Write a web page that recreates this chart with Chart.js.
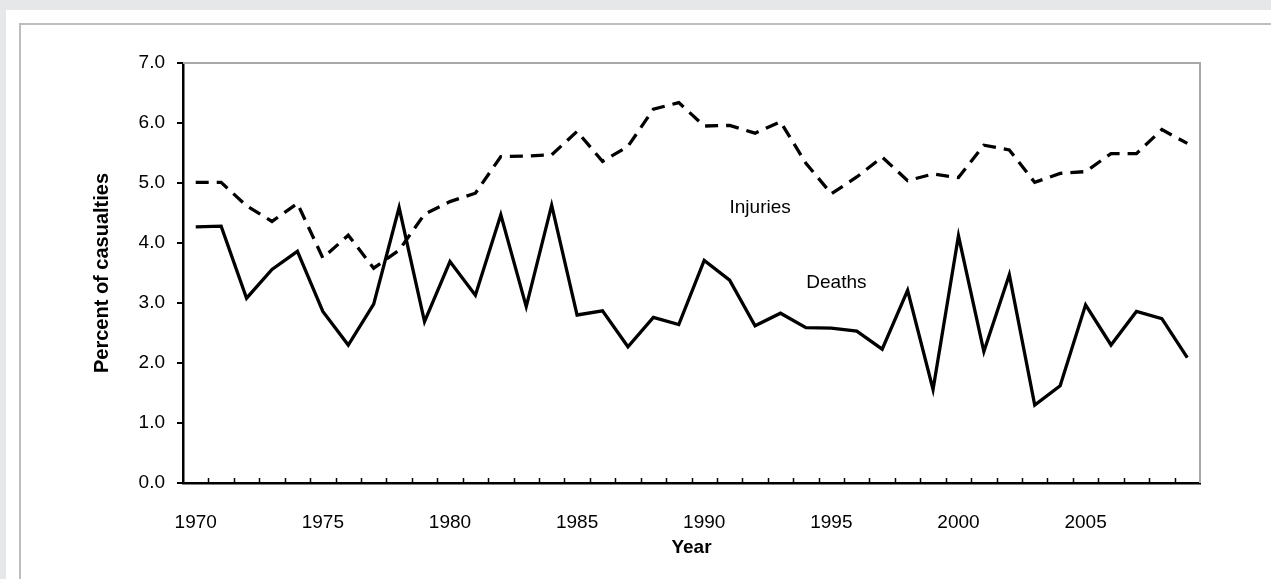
<!DOCTYPE html>
<html>
<head>
<meta charset="utf-8">
<script src="https://cdn.jsdelivr.net/npm/chart.js@4.4.1/dist/chart.umd.min.js"></script>
<style>
  html, body { margin: 0; padding: 0; background: #e6e7e9; overflow: hidden; }
  .card { position: absolute; left: 6px; top: 10px; width: 1300px; height: 600px; background: #fff; }
  .frame { position: absolute; left: 19px; top: 23px; width: 1300px; height: 600px; border: 2px solid #bdbdbd; box-sizing: border-box; }
  canvas { position: absolute; left: 0; top: 0; }
</style>
</head>
<body>
<div class="card"></div>
<div class="frame"></div>
<canvas id="chart" width="1271" height="579"></canvas>
<script>
const years = [
  1970, 1971, 1972, 1973, 1974, 1975, 1976, 1977, 1978, 1979,
  1980, 1981, 1982, 1983, 1984, 1985, 1986, 1987, 1988, 1989,
  1990, 1991, 1992, 1993, 1994, 1995, 1996, 1997, 1998, 1999,
  2000, 2001, 2002, 2003, 2004, 2005, 2006, 2007, 2008, 2009
];
const deaths = [
  4.27, 4.28, 3.08, 3.56, 3.86, 2.86, 2.30, 2.98, 4.59, 2.69,
  3.69, 3.13, 4.47, 2.94, 4.63, 2.80, 2.87, 2.27, 2.76, 2.64,
  3.71, 3.38, 2.62, 2.83, 2.59, 2.58, 2.53, 2.23, 3.21, 1.56,
  4.12, 2.19, 3.47, 1.30, 1.62, 2.97, 2.30, 2.86, 2.74, 2.09
];
const injuries = [
  5.01, 5.01, 4.62, 4.36, 4.66, 3.75, 4.13, 3.58, 3.88, 4.48,
  4.69, 4.83, 5.44, 5.45, 5.47, 5.86, 5.36, 5.61, 6.23, 6.34,
  5.95, 5.96, 5.83, 6.02, 5.33, 4.82, 5.10, 5.43, 5.04, 5.15,
  5.09, 5.63, 5.55, 5.01, 5.16, 5.19, 5.49, 5.49, 5.89, 5.66
];
// in-chart series labels (x as category index, y as percent)
const noteText = ['Injuries', 'Deaths'];
const noteX = [22.2, 25.2];
const noteY = [4.58, 3.33];

const FONT = "'Liberation Sans', Arial, Helvetica, sans-serif";

// gray top/right frame, inward x ticks and series labels
const decorations = {
  id: 'decorations',
  beforeDatasetsDraw(chart) {
    const { ctx, chartArea: a } = chart;
    ctx.save();
    ctx.strokeStyle = '#a8a8a8';
    ctx.lineWidth = 2;
    ctx.beginPath();
    ctx.moveTo(a.left, a.top);
    ctx.lineTo(a.right, a.top);
    ctx.lineTo(a.right, a.bottom);
    ctx.stroke();

    const x = chart.scales.x;
    ctx.strokeStyle = '#000';
    ctx.lineWidth = 1.5;
    ctx.beginPath();
    for (let i = 1; i < years.length; i++) {
      const px = Math.round((x.getPixelForValue(i - 1) + x.getPixelForValue(i)) / 2) + 0.5;
      ctx.moveTo(px, a.bottom);
      ctx.lineTo(px, a.bottom - 5);
    }
    ctx.stroke();
    ctx.restore();
  },
  afterDatasetsDraw(chart) {
    const { ctx } = chart;
    const x = chart.scales.x, y = chart.scales.y;
    ctx.save();
    ctx.fillStyle = '#000';
    ctx.font = '19px ' + FONT;
    ctx.textAlign = 'center';
    ctx.textBaseline = 'middle';
    noteText.forEach((t, i) => {
      ctx.fillText(t, x.getPixelForValue(noteX[i]), y.getPixelForValue(noteY[i]));
    });
    ctx.restore();
  }
};

new Chart(document.getElementById('chart').getContext('2d'), {
  type: 'line',
  data: {
    labels: years,
    datasets: [
      {
        label: 'Injuries',
        data: injuries,
        borderColor: '#000',
        borderWidth: 3.3,
        borderDash: [13, 8],
        pointRadius: 0,
        tension: 0,
        fill: false
      },
      {
        label: 'Deaths',
        data: deaths,
        borderColor: '#000',
        borderWidth: 3.3,
        pointRadius: 0,
        tension: 0,
        fill: false
      }
    ]
  },
  options: {
    responsive: false,
    animation: false,
    layout: {
      padding: { top: 63, right: 71, bottom: 20, left: 90 }
    },
    plugins: {
      legend: { display: false },
      tooltip: { enabled: false }
    },
    scales: {
      x: {
        type: 'category',
        offset: true,
        afterFit(scale) { scale.height = 76; },
        grid: { display: false, drawTicks: false },
        border: { display: true, color: '#000', width: 2.5 },
        ticks: {
          autoSkip: false,
          maxRotation: 0,
          padding: 28,
          color: '#000',
          font: { family: FONT, size: 19 },
          callback: function (value) {
            const yr = this.getLabelForValue(value);
            return yr % 5 === 0 ? String(yr) : '';
          }
        },
        title: {
          display: true,
          text: 'Year',
          color: '#000',
          padding: 0,
          font: { family: FONT, size: 19, weight: 'bold' }
        }
      },
      y: {
        min: 0,
        max: 7,
        afterFit(scale) { scale.width = 93; },
        grid: {
          drawOnChartArea: false,
          drawTicks: true,
          tickLength: 6,
          color: '#000',
          lineWidth: 2
        },
        border: { display: true, color: '#000', width: 2.5 },
        ticks: {
          stepSize: 1,
          padding: 12,
          color: '#000',
          font: { family: FONT, size: 19 },
          callback: v => v.toFixed(1)
        },
        title: {
          display: true,
          text: 'Percent of casualties',
          color: '#000',
          padding: 0,
          font: { family: FONT, size: 20, weight: 'bold' }
        }
      }
    }
  },
  plugins: [decorations]
});
</script>
</body>
</html>
